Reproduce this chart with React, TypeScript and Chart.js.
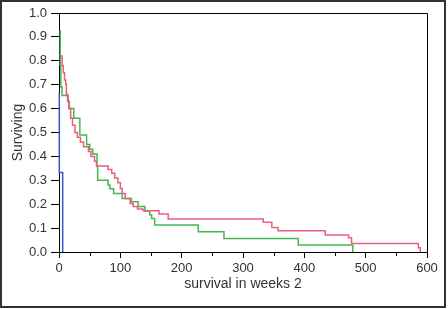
import React, { useEffect, useRef } from "react";
import Chart from "chart.js/auto";

const redX = [3, 5, 7, 9, 11, 12, 14, 16, 19, 22, 26, 30, 35, 40, 48, 52, 58, 61, 80, 86, 91, 96, 100, 103, 108, 116, 121, 128, 137, 163, 178, 333, 347, 357, 434, 472, 477, 586, 589];
const redY = [0.82, 0.78, 0.75, 0.72, 0.7, 0.66, 0.63, 0.6, 0.56, 0.53, 0.5, 0.48, 0.46, 0.44, 0.42, 0.4, 0.38, 0.36, 0.345, 0.33, 0.31, 0.29, 0.266, 0.245, 0.224, 0.203, 0.19, 0.18, 0.173, 0.159, 0.138, 0.124, 0.103, 0.089, 0.071, 0.06, 0.036, 0.018, 0];

const greenX = [1, 2, 3, 5, 15, 17, 24, 34, 45, 50, 55, 62, 63, 80, 83, 89, 103, 118, 129, 140, 148, 151, 156, 227, 269, 390, 479];
const greenY = [0.925, 0.78, 0.69, 0.655, 0.63, 0.6, 0.56, 0.49, 0.45, 0.43, 0.41, 0.36, 0.3, 0.28, 0.265, 0.245, 0.224, 0.21, 0.19, 0.17, 0.155, 0.14, 0.113, 0.085, 0.057, 0.029, 0];

const blueX = [0.5, 0.5, 6];
const blueY = [0.667, 0.333, 0];

const xTicks = [0, 100, 200, 300, 400, 500, 600];
const xMinorTicks = [50, 150, 250, 350, 450, 550];
const yTicks = [0, 0.1, 0.2, 0.3, 0.4, 0.5, 0.6, 0.7, 0.8, 0.9, 1.0];

const xTitle = "survival in weeks 2";
const yTitle = "Surviving";

const pts = (xs: number[], ys: number[]) => xs.map((x, i) => ({ x, y: ys[i] }));

export default function App() {
  const ref = useRef<HTMLCanvasElement | null>(null);
  useEffect(() => {
    if (!ref.current) return;
    const framePlugin = {
      id: "frame",
      afterDraw(chart: any) {
        const { ctx, chartArea } = chart;
        const xs = chart.scales.x;
        ctx.save();
        ctx.strokeStyle = "#000";
        ctx.lineWidth = 1;
        ctx.beginPath();
        ctx.moveTo(chartArea.left, chartArea.top + 0.5);
        ctx.lineTo(chartArea.right + 0.5, chartArea.top + 0.5);
        ctx.lineTo(chartArea.right + 0.5, chartArea.bottom);
        ctx.stroke();
        ctx.beginPath();
        for (const v of xMinorTicks) {
          const px = Math.round(xs.getPixelForValue(v)) + 0.5;
          ctx.moveTo(px, chartArea.bottom);
          ctx.lineTo(px, chartArea.bottom + 4);
        }
        ctx.stroke();
        ctx.strokeStyle = "#333";
        ctx.lineWidth = 2;
        ctx.strokeRect(1, 1, 444, 306);
        ctx.restore();
      },
    };
    const chart = new Chart(ref.current, {
      type: "line",
      data: {
        datasets: [
          { label: "blue", data: pts(blueX, blueY), borderColor: "#3355cc", borderWidth: 1.5, stepped: true, pointRadius: 0, clip: false } as any,
          { label: "red", data: pts(redX, redY), borderColor: "#e8607a", borderWidth: 1.5, stepped: true, pointRadius: 0, clip: false } as any,
          { label: "green", data: pts(greenX, greenY), borderColor: "#45b850", borderWidth: 1.5, stepped: true, pointRadius: 0, clip: false } as any,
        ],
      },
      options: {
        animation: false,
        responsive: false,
        events: [],
        layout: { padding: { left: 0, top: 13, right: 21, bottom: 0 } },
        plugins: { legend: { display: false }, tooltip: { enabled: false } },
        scales: {
          x: {
            type: "linear",
            min: 0,
            max: 600,
            afterBuildTicks: (s: any) => { s.ticks = xTicks.map((v) => ({ value: v })); },
            afterFit: (s: any) => { s.height = 57; },
            grid: { drawOnChartArea: false, drawTicks: true, tickLength: 6, color: "#000" },
            border: { display: true, color: "#000", width: 1 },
            ticks: { color: "#333", font: { family: "'Liberation Sans', Arial, sans-serif", size: 13 }, padding: 3, maxRotation: 0 },
            title: { display: true, text: xTitle, color: "#333", font: { family: "'Liberation Sans', Arial, sans-serif", size: 14 }, padding: { top: 0, bottom: 16 } },
          },
          y: {
            type: "linear",
            min: 0,
            max: 1,
            afterBuildTicks: (s: any) => { s.ticks = yTicks.map((v) => ({ value: v })); },
            afterFit: (s: any) => { s.width = 59; },
            grid: { drawOnChartArea: false, drawTicks: true, tickLength: 8, color: "#000" },
            border: { display: true, color: "#000", width: 1 },
            ticks: { color: "#333", font: { family: "'Liberation Sans', Arial, sans-serif", size: 13 }, padding: 4, callback: (v: any) => Number(v).toFixed(1) },
            title: { display: true, text: yTitle, color: "#333", font: { family: "'Liberation Sans', Arial, sans-serif", size: 14 }, padding: { top: 10, bottom: 0 } },
          },
        },
      },
      plugins: [framePlugin],
    } as any);
    return () => chart.destroy();
  }, []);
  return (
    <div style={{ position: "fixed", left: 0, top: 0, width: 448, height: 309, background: "#fff" }}>
      <canvas ref={ref} width={448} height={309} style={{ display: "block" }} />
    </div>
  );
}
